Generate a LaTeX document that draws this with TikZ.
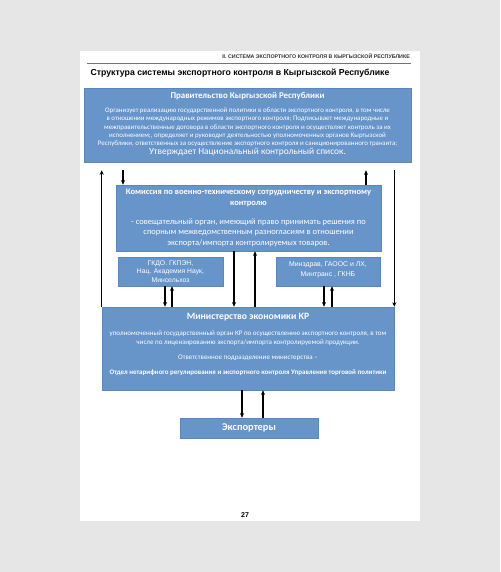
\documentclass[tikz,border=0pt]{standalone}
\usepackage{fontspec}
\setmainfont{Carlito}
\newfontfamily\arialf{Liberation Sans}
\usetikzlibrary{arrows.meta}
\definecolor{boxblue}{RGB}{103,148,201}
\definecolor{boxedge}{RGB}{92,134,190}
\definecolor{pagegray}{RGB}{230,230,230}
\begin{document}
\begin{tikzpicture}[x=1pt,y=-1pt,
 box/.style={draw=boxedge,line width=0.6pt,fill=boxblue,inner sep=0pt},
 wtxt/.style={text=white,align=center,inner sep=0pt},
 arr/.style={line width=1.2pt,-{Stealth[length=4.5pt,width=4pt]}},
]
\fill[pagegray] (0,0) rectangle (500,572);
\fill[white] (80,51) rectangle (420,521);
\useasboundingbox (0,0) rectangle (500,572);

% header
\node[anchor=east,inner sep=0pt,text=black!80,font=\arialf\bfseries\fontsize{5.3}{6}\selectfont] (hdr) at (410,56) {II. СИСТЕМА ЭКСПОРТНОГО КОНТРОЛЯ В КЫРГЫЗСКОЙ РЕСПУБЛИКЕ};
\draw[black!55,line width=0.8pt] (87,63) -- (411,63);
\node[inner sep=0pt,font=\arialf\bfseries\fontsize{8.7}{10}\selectfont] (ttl) at (240,73) {Структура системы экспортного контроля в Кыргызской Республике};

% boxes
\node[box,minimum width=327pt,minimum height=74pt] (gov) at (247.5,125) {};
\node[box,minimum width=265pt,minimum height=66pt] (com) at (248.5,218) {};
\node[box,minimum width=105pt,minimum height=29pt] (skl) at (170.5,271.5) {};
\node[box,minimum width=104pt,minimum height=29pt] (skr) at (328,271.5) {};
\node[box,minimum width=292pt,minimum height=83pt] (min) at (248,348.5) {};
\node[box,minimum width=138pt,minimum height=20pt] (exp) at (249,428) {};

% texts
\node[wtxt,font=\bfseries\fontsize{8.9}{10}\selectfont] (govt) at (247.5,96) {Правительство Кыргызской Республики};
\node[wtxt,font=\fontsize{6.9}{8.3}\selectfont] (govb) at (247.5,127.5) {Организует реализацию государственной политики в области экспортного контроля, в том числе\\
в отношении международных режимов экспортного контроля; Подписывает международные и\\
межправительственные договора в области экспортного контроля и осуществляет контроль за их\\
исполнением;, определяет и руководит деятельностью уполномоченных органов Кыргызской\\
Республики, ответственных за осуществление экспортного контроля и санкционированного транзита;};
\node[wtxt,font=\fontsize{9.4}{10}\selectfont] (govl) at (247.5,152.5) {Утверждает Национальный контрольный список.};

\node[wtxt,font=\bfseries\fontsize{8.5}{11.5}\selectfont] (comt) at (248.5,198) {Комиссия по военно-техническому сотрудничеству и экспортному\\ контролю};
\node[wtxt,font=\fontsize{8.5}{10.5}\selectfont] (comb) at (248.5,232.5) {- совещательный орган, имеющий право принимать решения по\\ спорным межведомственным разногласиям в отношении\\ экспорта/импорта контролируемых товаров.};

\node[wtxt,font=\arialf\fontsize{6.8}{8.5}\selectfont] (sklt) at (170.5,271.5) {ГКДО. ГКПЭН,\\ Нац. Академия Наук,\\ Минсельхоз};
\node[wtxt,font=\arialf\fontsize{6.9}{10}\selectfont] (skrt) at (328,270) {Минздрав, ГАООС и ЛХ,\\ Минтранс , ГКНБ};

\node[wtxt,font=\bfseries\fontsize{9.7}{10}\selectfont] (mint) at (248,317) {Министерство экономики КР};
\node[wtxt,font=\fontsize{7}{9}\selectfont] (minb) at (248,338.5) {уполномоченный государственный орган КР по осуществлению экспортного контроля, в том\\ числе по лицензированию экспорта/импорта контролируемой продукции.};
\node[wtxt,font=\fontsize{7}{8}\selectfont] (minr) at (248,358) {Ответственное подразделение министерства –};
\node[wtxt,font=\bfseries\fontsize{6.95}{8}\selectfont] (mind) at (248,373) {Отдел нетарифного регулирования и экспортного контроля Управления торговой политики};

\node[wtxt,font=\bfseries\fontsize{10.4}{12}\selectfont] (expt) at (249,428) {Экспортеры};

\node[inner sep=0pt,font=\arialf\bfseries\fontsize{7}{8}\selectfont] (pg) at (245,515) {27};

% columns
\coordinate (c123) at (123,0);
\coordinate (c366) at (366,0);
\coordinate (c234) at (234,0);
\coordinate (c255) at (255,0);
\coordinate (c165) at (165,0);
\coordinate (c172) at (172,0);
\coordinate (c324) at (324,0);
\coordinate (c332) at (332,0);
\coordinate (c242) at (242,0);
\coordinate (c263) at (263,0);

% arrows
\draw[arr] (min.north west) -- ([yshift=-8pt]gov.south -| min.north west);
\draw[arr] ([yshift=-8pt]gov.south -| min.north east) -- (min.north east);
\draw[arr] ([yshift=-8pt]gov.south -| c123) -- (com.north -| c123);
\draw[arr] (com.north -| c366) -- ([yshift=-8pt]gov.south -| c366);
\draw[arr] (com.south -| c234) -- (min.north -| c234);
\draw[arr] (min.north -| c255) -- (com.south -| c255);
\draw[arr] (skl.south -| c165) -- (min.north -| c165);
\draw[arr] (min.north -| c172) -- (skl.south -| c172);
\draw[arr] (skr.south -| c324) -- (min.north -| c324);
\draw[arr] (min.north -| c332) -- (skr.south -| c332);
\draw[arr] (min.south -| c242) -- (exp.north -| c242);
\draw[arr] (exp.north -| c263) -- (min.south -| c263);
\end{tikzpicture}
\end{document}
